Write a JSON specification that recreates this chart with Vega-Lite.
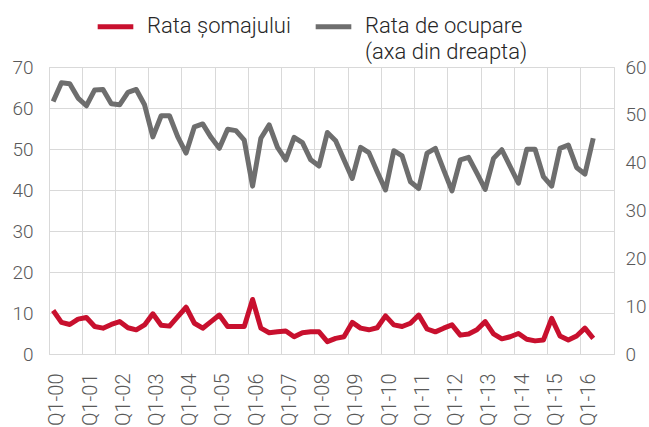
{
  "$schema": "https://vega.github.io/schema/vega-lite/v6.json",
  "autosize": {"type": "none"},
  "width": 565,
  "height": 287,
  "padding": {"left": 49, "top": 67, "right": 35, "bottom": 73},
  "data": {"values": [
    {"q": "Q1-00", "somaj": 10.6, "ocupare": 52.8},
    {"q": "Q2-00", "somaj": 7.7, "ocupare": 56.7},
    {"q": "Q3-00", "somaj": 7.2, "ocupare": 56.5},
    {"q": "Q4-00", "somaj": 8.5, "ocupare": 53.5},
    {"q": "Q1-01", "somaj": 8.9, "ocupare": 51.9},
    {"q": "Q2-01", "somaj": 6.7, "ocupare": 55.2},
    {"q": "Q3-01", "somaj": 6.3, "ocupare": 55.3},
    {"q": "Q4-01", "somaj": 7.2, "ocupare": 52.3},
    {"q": "Q1-02", "somaj": 7.9, "ocupare": 52.1},
    {"q": "Q2-02", "somaj": 6.4, "ocupare": 54.7},
    {"q": "Q3-02", "somaj": 5.9, "ocupare": 55.3},
    {"q": "Q4-02", "somaj": 7.1, "ocupare": 52.1},
    {"q": "Q1-03", "somaj": 9.8, "ocupare": 45.4},
    {"q": "Q2-03", "somaj": 7.0, "ocupare": 49.8},
    {"q": "Q3-03", "somaj": 6.8, "ocupare": 49.8},
    {"q": "Q4-03", "somaj": 9.1, "ocupare": 45.4},
    {"q": "Q1-04", "somaj": 11.4, "ocupare": 42.0},
    {"q": "Q2-04", "somaj": 7.5, "ocupare": 47.5},
    {"q": "Q3-04", "somaj": 6.3, "ocupare": 48.1},
    {"q": "Q4-04", "somaj": 7.9, "ocupare": 45.3},
    {"q": "Q1-05", "somaj": 9.5, "ocupare": 43.0},
    {"q": "Q2-05", "somaj": 6.7, "ocupare": 47.0},
    {"q": "Q3-05", "somaj": 6.7, "ocupare": 46.7},
    {"q": "Q4-05", "somaj": 6.7, "ocupare": 44.7},
    {"q": "Q1-06", "somaj": 13.3, "ocupare": 35.1},
    {"q": "Q2-06", "somaj": 6.3, "ocupare": 45.1},
    {"q": "Q3-06", "somaj": 5.2, "ocupare": 47.9},
    {"q": "Q4-06", "somaj": 5.4, "ocupare": 43.2},
    {"q": "Q1-07", "somaj": 5.6, "ocupare": 40.6},
    {"q": "Q2-07", "somaj": 4.2, "ocupare": 45.3},
    {"q": "Q3-07", "somaj": 5.2, "ocupare": 44.2},
    {"q": "Q4-07", "somaj": 5.4, "ocupare": 40.6},
    {"q": "Q1-08", "somaj": 5.4, "ocupare": 39.3},
    {"q": "Q2-08", "somaj": 3.0, "ocupare": 46.3},
    {"q": "Q3-08", "somaj": 3.8, "ocupare": 44.6},
    {"q": "Q4-08", "somaj": 4.2, "ocupare": 40.6},
    {"q": "Q1-09", "somaj": 7.7, "ocupare": 36.7},
    {"q": "Q2-09", "somaj": 6.3, "ocupare": 43.2},
    {"q": "Q3-09", "somaj": 5.9, "ocupare": 42.1},
    {"q": "Q4-09", "somaj": 6.4, "ocupare": 38.1},
    {"q": "Q1-10", "somaj": 9.3, "ocupare": 34.3},
    {"q": "Q2-10", "somaj": 7.1, "ocupare": 42.5},
    {"q": "Q3-10", "somaj": 6.7, "ocupare": 41.4},
    {"q": "Q4-10", "somaj": 7.5, "ocupare": 36.0},
    {"q": "Q1-11", "somaj": 9.5, "ocupare": 34.6},
    {"q": "Q2-11", "somaj": 6.1, "ocupare": 42.0},
    {"q": "Q3-11", "somaj": 5.4, "ocupare": 43.0},
    {"q": "Q4-11", "somaj": 6.3, "ocupare": 38.5},
    {"q": "Q1-12", "somaj": 7.1, "ocupare": 34.1},
    {"q": "Q2-12", "somaj": 4.6, "ocupare": 40.6},
    {"q": "Q3-12", "somaj": 4.9, "ocupare": 41.1},
    {"q": "Q4-12", "somaj": 5.9, "ocupare": 37.8},
    {"q": "Q1-13", "somaj": 7.9, "ocupare": 34.4},
    {"q": "Q2-13", "somaj": 4.9, "ocupare": 40.9},
    {"q": "Q3-13", "somaj": 3.7, "ocupare": 42.7},
    {"q": "Q4-13", "somaj": 4.2, "ocupare": 39.2},
    {"q": "Q1-14", "somaj": 5.0, "ocupare": 35.7},
    {"q": "Q2-14", "somaj": 3.6, "ocupare": 42.8},
    {"q": "Q3-14", "somaj": 3.2, "ocupare": 42.8},
    {"q": "Q4-14", "somaj": 3.4, "ocupare": 37.1},
    {"q": "Q1-15", "somaj": 8.7, "ocupare": 35.1},
    {"q": "Q2-15", "somaj": 4.4, "ocupare": 43.0},
    {"q": "Q3-15", "somaj": 3.4, "ocupare": 43.7},
    {"q": "Q4-15", "somaj": 4.4, "ocupare": 39.0},
    {"q": "Q1-16", "somaj": 6.3, "ocupare": 37.6},
    {"q": "Q2-16", "somaj": 3.8, "ocupare": 45.1}
  ]},
  "encoding": {
    "x": {
      "field": "q",
      "type": "ordinal",
      "bandPosition": 0.5,
      "scale": {
        "type": "band",
        "paddingInner": 0,
        "paddingOuter": 0,
        "domain": ["Q1-00","Q2-00","Q3-00","Q4-00","Q1-01","Q2-01","Q3-01","Q4-01","Q1-02","Q2-02","Q3-02","Q4-02","Q1-03","Q2-03","Q3-03","Q4-03","Q1-04","Q2-04","Q3-04","Q4-04","Q1-05","Q2-05","Q3-05","Q4-05","Q1-06","Q2-06","Q3-06","Q4-06","Q1-07","Q2-07","Q3-07","Q4-07","Q1-08","Q2-08","Q3-08","Q4-08","Q1-09","Q2-09","Q3-09","Q4-09","Q1-10","Q2-10","Q3-10","Q4-10","Q1-11","Q2-11","Q3-11","Q4-11","Q1-12","Q2-12","Q3-12","Q4-12","Q1-13","Q2-13","Q3-13","Q4-13","Q1-14","Q2-14","Q3-14","Q4-14","Q1-15","Q2-15","Q3-15","Q4-15","Q1-16","Q2-16","Q3-16","Q4-16"]
      },
      "axis": {
        "title": null,
        "values": ["Q1-00","Q1-01","Q1-02","Q1-03","Q1-04","Q1-05","Q1-06","Q1-07","Q1-08","Q1-09","Q1-10","Q1-11","Q1-12","Q1-13","Q1-14","Q1-15","Q1-16"],
        "bandPosition": 0,
        "labelOffset": 4.15,
        "labelAngle": -90,
        "labelPadding": 19,
        "labelFontSize": 20,
        "grid": true,
        "gridColor": "#d9d9d9",
        "domainColor": "#d9d9d9",
        "ticks": false
      }
    }
  },
  "layer": [
    {
      "mark": {"type": "line", "strokeWidth": 5, "strokeJoin": "round"},
      "encoding": {
        "y": {
          "field": "somaj",
          "type": "quantitative",
          "scale": {"domain": [0, 70]},
          "axis": {
            "title": null,
            "values": [0, 10, 20, 30, 40, 50, 60, 70],
            "grid": true,
            "gridColor": "#d9d9d9",
            "domain": false,
            "ticks": false,
            "labelPadding": 16
          }
        },
        "color": {
          "datum": "Rata șomajului",
          "type": "nominal",
          "scale": {"domain": ["Rata șomajului", "Rata de ocupare"], "range": ["#c8102e", "#6e6e6e"]},
          "legend": {
            "title": null,
            "orient": "none",
            "legendX": 46,
            "legendY": -72,
            "direction": "horizontal",
            "symbolType": "M-1,0.62L1,0.62",
            "symbolStrokeWidth": 5,
            "symbolSize": 1270,
            "labelOffset": 11,
            "columnPadding": 14,
            "labelBaseline": "top",
            "labelExpr": "datum.label == 'Rata de ocupare' ? ['Rata de ocupare', '(axa din dreapta)'] : [datum.label, ' ']"
          }
        }
      }
    },
    {
      "mark": {"type": "line", "strokeWidth": 5, "strokeJoin": "round"},
      "encoding": {
        "y": {
          "field": "ocupare",
          "type": "quantitative",
          "scale": {"domain": [0, 60]},
          "axis": {
            "title": null,
            "orient": "right",
            "values": [0, 10, 20, 30, 40, 50, 60],
            "grid": false,
            "domain": false,
            "ticks": false,
            "labelPadding": 11
          }
        },
        "color": {"datum": "Rata de ocupare", "type": "nominal"}
      }
    }
  ],
  "resolve": {"scale": {"y": "independent"}},
  "config": {
    "view": {"stroke": "#d9d9d9"},
    "font": "Roboto",
    "axis": {"labelFont": "Roboto", "labelFontWeight": 300, "labelColor": "#595959", "labelFontSize": 19},
    "legend": {"labelFont": "Roboto", "labelFontWeight": 300, "labelFontSize": 22, "labelColor": "#262626", "labelLimit": 400},
    "style": {"guide-label": {"lineHeight": 26}}
  }
}
